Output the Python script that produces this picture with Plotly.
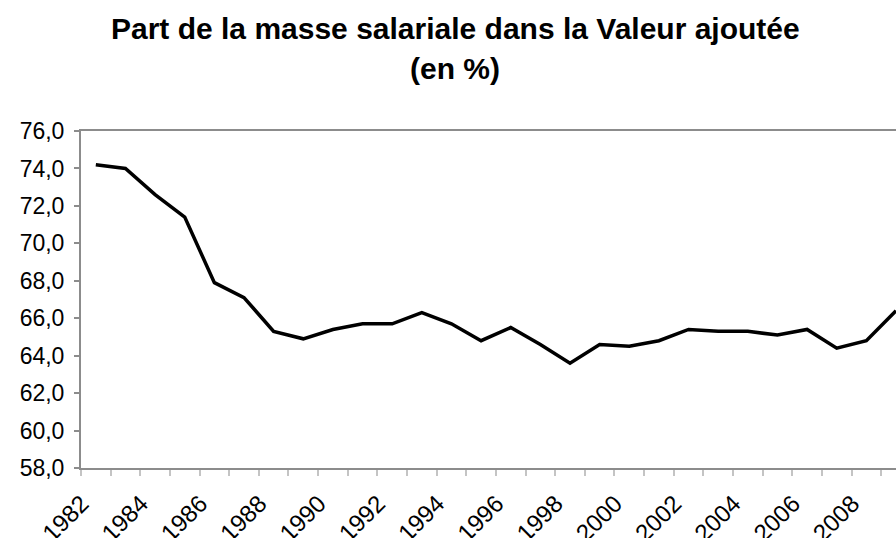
import plotly.graph_objects as go

# Wage share of value added, France (%)
years = list(range(1982, 2010))
part_salaires = [74.2, 74.0, 72.6, 71.4, 67.9, 67.1, 65.3, 64.9, 65.4, 65.7,
                 65.7, 66.3, 65.7, 64.8, 65.5, 64.6, 63.6, 64.6, 64.5, 64.8,
                 65.4, 65.3, 65.3, 65.1, 65.4, 64.4, 64.8, 66.4]
year_labels = [str(y) for y in range(1982, 2010, 2)]
title_lines = ["Part de la masse salariale dans la Valeur ajoutée", "(en %)"]

AXIS_GREY = "#8c8c8c"
FONT = "Liberation Sans, Arial, sans-serif"

# plot area edges in page pixels
PLOT_L, PLOT_T, PLOT_B, PLOT_R = 81, 131, 468, 896

fig = go.Figure()
fig.add_trace(go.Scatter(
    x=years,
    y=part_salaires,
    mode="lines",
    line=dict(color="black", width=3.5),
    showlegend=False,
))

fig.update_layout(
    width=896,
    height=538,
    margin=dict(l=PLOT_L, r=896 - PLOT_R, t=PLOT_T, b=538 - PLOT_B),
    paper_bgcolor="white",
    plot_bgcolor="white",
    separators=", ",
    font=dict(family=FONT, color="black"),
)

# two title lines, placed separately to match the line spacing
for text, y_pix in zip(title_lines, [28, 68]):
    fig.add_annotation(
        text=f"<b>{text}</b>",
        xref="paper", yref="paper",
        x=(455 - PLOT_L) / (PLOT_R - PLOT_L),
        y=(PLOT_B - y_pix) / (PLOT_B - PLOT_T),
        xanchor="center", yanchor="middle",
        showarrow=False,
        font=dict(size=30, family=FONT, color="black"),
    )

fig.update_xaxes(
    range=[1981.5, 2009.0],
    automargin=False,
    tickmode="array",
    tickvals=list(range(1982, 2010, 2)),
    ticktext=year_labels,
    tickangle=-45,
    ticks="",
    tickfont=dict(size=24),
    ticklabelstandoff=10,
    ticklabelshift=-14,
    showgrid=False,
    zeroline=False,
    showline=True,
    linecolor=AXIS_GREY,
    linewidth=2,
    mirror=True,
    minor=dict(
        tickvals=[y - 0.5 for y in range(1982, 2011)],
        ticks="outside",
        ticklen=6,
        tickwidth=1.5,
        tickcolor="#c4c4c4",
        showgrid=False,
    ),
)

fig.update_yaxes(
    range=[58, 76],
    automargin=False,
    tick0=58,
    dtick=2,
    tickformat=".1f",
    ticks="outside",
    ticklen=5,
    tickwidth=1.5,
    tickcolor=AXIS_GREY,
    tickfont=dict(size=23),
    ticklabelstandoff=5,
    showgrid=False,
    zeroline=False,
    showline=True,
    linecolor=AXIS_GREY,
    linewidth=2,
)

# drop the default page margin so the figure sits at the window's corner
fig.write_html(
    "out.html",
    config={"displayModeBar": False},
    post_script="document.body.style.margin = '0';",
)
